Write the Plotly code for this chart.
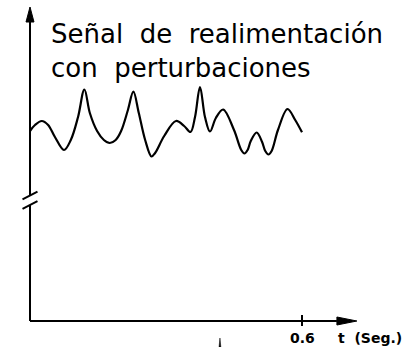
import plotly.graph_objects as go

# Feedback signal with disturbances, sampled over the first 0.6 s
t_seg = [0.000, 0.011, 0.026, 0.040, 0.055, 0.075, 0.090, 0.106, 0.120, 0.132,
         0.148, 0.163, 0.176, 0.189, 0.201, 0.216, 0.228, 0.240, 0.254, 0.268,
         0.276, 0.296, 0.322, 0.340, 0.354, 0.364, 0.375, 0.386, 0.397, 0.410,
         0.426, 0.450, 0.466, 0.473, 0.480, 0.487, 0.500, 0.512, 0.519, 0.526,
         0.533, 0.547, 0.568, 0.585, 0.600]
senal = [1.90, 1.96, 2.00, 1.96, 1.84, 1.71, 1.81, 2.04, 2.315, 2.08,
         1.90, 1.81, 1.78, 1.81, 1.90, 2.11, 2.293, 2.08, 1.81, 1.645,
         1.68, 1.85, 2.00, 1.95, 1.89, 2.04, 2.34, 2.04, 1.895, 2.03,
         2.115, 1.91, 1.71, 1.675, 1.71, 1.80, 1.885, 1.79, 1.70, 1.665,
         1.70, 1.91, 2.12, 2.01, 1.887]

x_ticks = [0.6]
x_tick_labels = ["0.6"]
titulo = ["Señal\u00a0 de\u00a0 realimentación", "con\u00a0 perturbaciones"]
x_titulo = "t\u00a0 (Seg.)"

W, H = 408, 347
X_RANGE = [-0.06618, 0.83382]
Y_RANGE = [-0.26, 3.21]

# axis geometry, in data units
T_ARROW = 0.721        # tip of the time-axis arrow
T_HEAD = 0.044         # arrow head length along t
V_HALF = 0.04          # arrow head half height
V_ARROW = 3.14         # tip of the signal-axis arrow
V_HEAD = 0.15
T_HALF = 0.0088
BREAK_LO, BREAK_HI = 1.16, 1.255
SL_T, SL_V = 0.0165, 0.038

fig = go.Figure()

fig.add_trace(go.Scatter(
    x=t_seg, y=senal, mode="lines",
    line=dict(color="black", width=2.2, shape="spline", smoothing=1.0),
    hoverinfo="skip", showlegend=False,
))

line = dict(color="black", width=2)
shapes = [
    # time axis
    dict(type="line", x0=0, y0=0, x1=T_ARROW - T_HEAD, y1=0, line=line),
    dict(type="path",
         path=f"M {T_ARROW - T_HEAD},{-V_HALF} L {T_ARROW},0 L {T_ARROW - T_HEAD},{V_HALF} Z",
         fillcolor="black", line=dict(color="black", width=1)),
    # signal axis, broken
    dict(type="line", x0=0, y0=0, x1=0, y1=BREAK_LO, line=line),
    dict(type="line", x0=0, y0=BREAK_HI, x1=0, y1=V_ARROW - V_HEAD, line=line),
    dict(type="path",
         path=f"M {-T_HALF},{V_ARROW - V_HEAD} L 0,{V_ARROW} L {T_HALF},{V_ARROW - V_HEAD} Z",
         fillcolor="black", line=dict(color="black", width=1)),
    dict(type="line", x0=-SL_T, y0=BREAK_HI - SL_V, x1=SL_T, y1=BREAK_HI + SL_V, line=line),
    dict(type="line", x0=-SL_T, y0=BREAK_LO - SL_V, x1=SL_T, y1=BREAK_LO + SL_V, line=line),
    # small pointer below the time axis
    dict(type="path", path="M 0.417,-0.26 L 0.419,-0.17 L 0.421,-0.26 Z",
         fillcolor="black", line=dict(color="black", width=0.5)),
]
for tv in x_ticks:
    shapes.append(dict(type="line", x0=tv, y0=-0.05, x1=tv, y1=0.06, line=line))

annotations = []
for tv, lab in zip(x_ticks, x_tick_labels):
    annotations.append(dict(x=tv, y=-0.17, xref="x", yref="y", text=lab,
                            showarrow=False, xanchor="center", yanchor="middle",
                            font=dict(family="DejaVu Sans", size=14, color="black", weight="bold")))
annotations.append(dict(x=0.75, y=-0.17, xref="x", yref="y", text=x_titulo,
                        showarrow=False, xanchor="center", yanchor="middle",
                        font=dict(family="DejaVu Sans", size=14, color="black", weight="bold")))
for i, txt in enumerate(titulo):
    annotations.append(dict(x=0.041, y=[2.875, 2.53][i], xref="x", yref="y", text=txt,
                            showarrow=False, xanchor="left", yanchor="middle",
                            font=dict(family="DejaVu Sans", size=26, color="black")))

fig.update_layout(
    width=W, height=H,
    margin=dict(l=0, r=0, t=0, b=0),
    paper_bgcolor="white", plot_bgcolor="white",
    xaxis=dict(range=X_RANGE, visible=False, fixedrange=True),
    yaxis=dict(range=Y_RANGE, visible=False, fixedrange=True),
    shapes=shapes, annotations=annotations,
    showlegend=False,
)

fig.write_html("out.html")
